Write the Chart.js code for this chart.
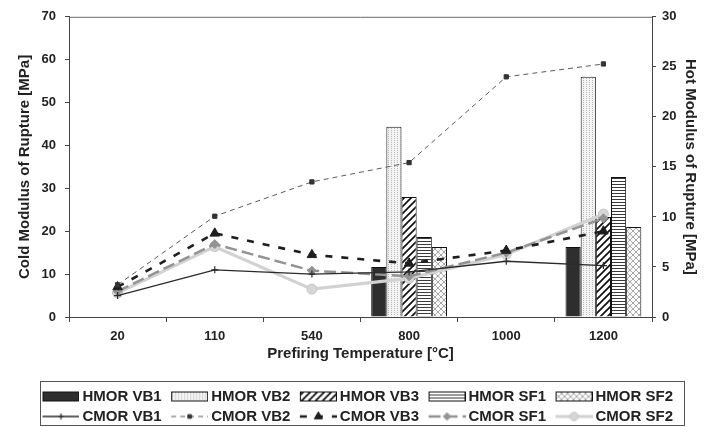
<!DOCTYPE html>
<html>
<head>
<meta charset="utf-8">
<script src="https://cdn.jsdelivr.net/npm/chart.js@4/dist/chart.umd.min.js"></script>
<style>
  html, body { margin: 0; padding: 0; background: #fff; }
  #wrap { width: 711px; height: 427px; }
</style>
</head>
<body>
<div id="wrap"><canvas id="c"></canvas></div>
<script>
// Prefiring temperatures (°C)
const temperatures = ['20', '110', '540', '800', '1000', '1200'];

// Hot modulus of rupture (MPa), right axis
const hmorVB1 = [null, null, null, 5, null, 7];
const hmorVB2 = [null, null, null, 19, null, 24];
const hmorVB3 = [null, null, null, 12, null, 10];
const hmorSF1 = [null, null, null, 8, null, 14];
const hmorSF2 = [null, null, null, 7, null, 9];

// Cold modulus of rupture (MPa), left axis
const cmorVB1 = [5, 11, 10, 10.5, 13, 12];
const cmorVB2 = [7.5, 23.5, 31.5, 36, 56, 59];
const cmorVB3 = [7, 19.5, 14.5, 12.5, 15.5, 20];
const cmorSF1 = [6, 17, 10.8, 9.5, 15, 23];
const cmorSF2 = [5.6, 16.4, 6.5, 9, 14.6, 24];

const leftTicks = { min: 0, max: 70, step: 10 };
const rightTicks = { min: 0, max: 30, step: 5 };

const FONT = "'Liberation Sans', Arial, sans-serif";
const INK = '#222';

function tile(w, h, paint) {
  const c = document.createElement('canvas');
  c.width = w; c.height = h;
  const g = c.getContext('2d');
  paint(g, w, h);
  return g.createPattern(c, 'repeat');
}

// Bar fills
const fillVB1 = '#2e2e2e';
const fillVB2 = tile(3, 2, (g, w, h) => {
  g.fillStyle = '#f3f3f3'; g.fillRect(0, 0, w, h);
  g.fillStyle = '#b8b8b8'; g.fillRect(1, 0, 1, 1);
});
const fillVB3 = tile(7, 7, (g, w, h) => {
  g.fillStyle = '#fff'; g.fillRect(0, 0, w, h);
  g.strokeStyle = '#111'; g.lineWidth = 1.7;
  g.beginPath();
  g.moveTo(-1, 8); g.lineTo(8, -1);
  g.moveTo(-2, 2); g.lineTo(2, -2);
  g.moveTo(5, 9); g.lineTo(9, 5);
  g.stroke();
});
const fillSF1 = tile(2, 3, (g, w, h) => {
  g.fillStyle = '#fff'; g.fillRect(0, 0, w, h);
  g.fillStyle = '#3a3a3a'; g.fillRect(0, 1, w, 1);
});
const fillSF2 = tile(6, 6, (g, w, h) => {
  g.fillStyle = '#fafafa'; g.fillRect(0, 0, w, h);
  g.strokeStyle = '#a8a8a8'; g.lineWidth = 1;
  g.beginPath();
  g.moveTo(0, 0); g.lineTo(6, 6);
  g.moveTo(6, 0); g.lineTo(0, 6);
  g.stroke();
});

// Legend swatch images: the swatch sits at the right end of the image,
// just before the label text
const SW_IMG = 46, SW_LEN = 37;
function barSwatch(fill) {
  const c = document.createElement('canvas');
  c.width = SW_IMG; c.height = 12;
  const g = c.getContext('2d');
  const x0 = SW_IMG - SW_LEN + 0.5;
  g.fillStyle = fill; g.fillRect(x0, 1.5, SW_LEN - 1, 9);
  g.strokeStyle = '#111'; g.lineWidth = 1; g.strokeRect(x0, 1.5, SW_LEN - 1, 9);
  return c;
}
function lineSwatch(ds) {
  const c = document.createElement('canvas');
  c.width = SW_IMG; c.height = 14;
  const g = c.getContext('2d');
  const x0 = SW_IMG - SW_LEN;
  g.strokeStyle = ds.borderColor; g.lineWidth = ds.borderWidth;
  g.setLineDash(ds.borderDash || []);
  g.beginPath(); g.moveTo(x0, 7); g.lineTo(SW_IMG, 7); g.stroke();
  g.setLineDash([]);
  g.fillStyle = ds.pointBackgroundColor;
  g.strokeStyle = ds.pointBorderColor;
  g.lineWidth = ds.pointBorderWidth || 1;
  Chart.helpers.drawPoint(g, {
    pointStyle: ds.pointStyle, radius: ds.pointRadius * 0.85, borderWidth: ds.pointBorderWidth || 1, rotation: 0
  }, x0 + SW_LEN / 2, 7);
  return c;
}

function bar(label, data, fill) {
  return {
    type: 'bar', label, data, yAxisID: 'y2', order: 2,
    backgroundColor: fill, borderColor: '#111', borderWidth: 1,
    categoryPercentage: 0.78, barPercentage: 1
  };
}
function line(label, data, o) {
  return Object.assign({
    type: 'line', label, data, yAxisID: 'y', order: 1,
    fill: false, tension: 0, pointBorderWidth: 1
  }, o);
}

const datasets = [
  bar('HMOR VB1', hmorVB1, fillVB1),
  bar('HMOR VB2', hmorVB2, fillVB2),
  bar('HMOR VB3', hmorVB3, fillVB3),
  bar('HMOR SF1', hmorSF1, fillSF1),
  bar('HMOR SF2', hmorSF2, fillSF2),
  line('CMOR VB1', cmorVB1, {
    borderColor: '#2a2a2a', borderWidth: 1.3,
    pointStyle: 'cross', pointRadius: 3.5, pointBorderColor: '#2a2a2a', pointBackgroundColor: '#2a2a2a', pointBorderWidth: 1.2
  }),
  line('CMOR VB2', cmorVB2, {
    borderColor: '#5a5a5a', borderWidth: 1, borderDash: [5, 4],
    pointStyle: 'rect', pointRadius: 3, pointBorderColor: '#333', pointBackgroundColor: '#333'
  }),
  line('CMOR VB3', cmorVB3, {
    borderColor: '#1e1e1e', borderWidth: 2.6, borderDash: [7, 9],
    pointStyle: 'triangle', pointRadius: 5.5, pointBorderColor: '#1e1e1e', pointBackgroundColor: '#1e1e1e'
  }),
  line('CMOR SF1', cmorSF1, {
    borderColor: '#939393', borderWidth: 2.5, borderDash: [12, 5],
    pointStyle: 'rectRot', pointRadius: 4.5, pointBorderColor: '#939393', pointBackgroundColor: '#939393'
  }),
  line('CMOR SF2', cmorSF2, {
    borderColor: '#d2d2d2', borderWidth: 3.2,
    pointStyle: 'circle', pointRadius: 5, pointBorderColor: '#c6c6c6', pointBackgroundColor: '#d6d6d6'
  })
];

const swatches = datasets.map(ds => ds.type === 'bar' ? barSwatch(ds.backgroundColor) : lineSwatch(ds));

// Frame line on top of the plot and a box round the legend
const framePlugin = {
  id: 'frame',
  afterDraw(chart) {
    const { ctx, chartArea: a, legend } = chart;
    ctx.save();
    ctx.strokeStyle = '#6a6a6a';
    ctx.lineWidth = 1;
    ctx.beginPath();
    ctx.moveTo(a.left, a.top + 0.5);
    ctx.lineTo(a.right, a.top + 0.5);
    ctx.stroke();
    const boxes = legend.legendHitBoxes;
    if (boxes && boxes.length) {
      let l = Infinity, r = -Infinity, t = Infinity, b = -Infinity;
      boxes.forEach(h => {
        l = Math.min(l, h.left); r = Math.max(r, h.left + h.width);
        t = Math.min(t, h.top); b = Math.max(b, h.top + h.height);
      });
      const x0 = Math.round(l + 2) + 0.5, y0 = Math.round(t - 8) + 0.5;
      const x1 = Math.round(r + 11) + 0.5, y1 = Math.min(Math.round(b + 1), 425) + 0.5;
      ctx.strokeStyle = '#555';
      ctx.strokeRect(x0, y0, x1 - x0, y1 - y0);
    }
    ctx.restore();
  }
};

new Chart(document.getElementById('c'), {
  data: { labels: temperatures, datasets },
  plugins: [framePlugin],
  options: {
    responsive: true,
    maintainAspectRatio: false,
    animation: false,
    events: [],
    layout: { padding: { top: 14, left: 0, right: 0, bottom: -7 } },
    plugins: {
      tooltip: { enabled: false },
      legend: {
        position: 'bottom',
        labels: {
          usePointStyle: true,
          pointStyleWidth: SW_IMG - 9,
          padding: 5,
          color: INK,
          font: { family: FONT, size: 15, weight: 'bold' },
          generateLabels: chart => chart.data.datasets.map((ds, i) => ({
            text: ds.label,
            pointStyle: swatches[i],
            datasetIndex: i,
            hidden: false,
            fontColor: INK,
            lineWidth: 0,
            strokeStyle: 'rgba(0,0,0,0)',
            fillStyle: 'rgba(0,0,0,0)'
          }))
        }
      }
    },
    scales: {
      x: {
        offset: true,
        grid: { display: true, drawOnChartArea: false, offset: true, tickLength: 5, color: '#444' },
        border: { color: '#444', width: 1 },
        ticks: { color: INK, font: { family: FONT, size: 13, weight: 'bold' }, padding: 7 },
        title: { display: true, text: 'Prefiring Temperature [°C]', color: INK, font: { family: FONT, size: 15, weight: 'bold' }, padding: { top: 2, bottom: 21 } },
        afterFit: s => { s.height = 67; }
      },
      y: {
        position: 'left',
        min: leftTicks.min, max: leftTicks.max,
        grid: { display: true, drawOnChartArea: false, tickLength: 4, color: '#444' },
        border: { color: '#444', width: 1 },
        ticks: { stepSize: leftTicks.step, color: INK, font: { family: FONT, size: 13, weight: 'bold' }, padding: 9 },
        title: { display: true, text: 'Cold Modulus of Rupture [MPa]', color: INK, font: { family: FONT, size: 15, weight: 'bold' }, padding: { top: 16, bottom: 0 } },
        afterFit: s => { s.width = 69; }
      },
      y2: {
        position: 'right',
        min: rightTicks.min, max: rightTicks.max,
        grid: { display: true, drawOnChartArea: false, tickLength: 4, color: '#444' },
        border: { color: '#444', width: 1 },
        ticks: { stepSize: rightTicks.step, color: INK, font: { family: FONT, size: 13, weight: 'bold' }, padding: 6 },
        title: { display: true, text: 'Hot Modulus of Rupture [MPa]', color: INK, font: { family: FONT, size: 15, weight: 'bold' }, padding: { top: 12, bottom: 0 } },
        afterFit: s => { s.width = 59; }
      }
    }
  }
});
</script>
</body>
</html>
